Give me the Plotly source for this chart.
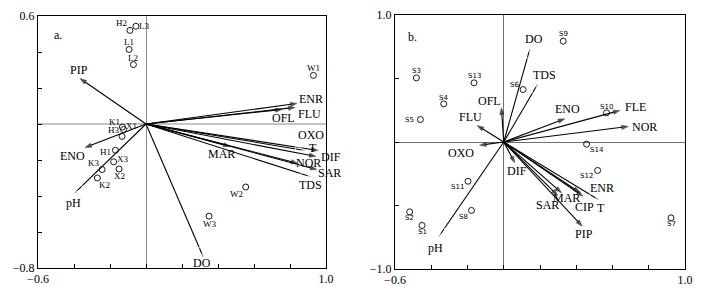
import plotly.graph_objects as go

# ---------------- data: panel a ----------------
a_vars = ["PIP", "ENO", "pH", "DO", "ENR", "FLU", "OFL", "OXO", "T", "DIF", "NOR", "SAR", "TDS", "MAR"]
a_vx = [-0.367, -0.339, -0.394, 0.317, 0.839, 0.828, 0.756, 0.956, 0.883, 0.944, 0.844, 0.950, 0.911, 0.467]
a_vy = [0.253, -0.131, -0.381, -0.736, 0.114, 0.092, 0.081, -0.147, -0.147, -0.180, -0.219, -0.253, -0.292, -0.125]
a_open = [False, False, True, True, False, False, False, False, True, False, False, False, True, False]

a_sites = ["H2", "L3", "L1", "L2", "K1", "X1", "H3", "H1", "X3", "X2", "K3", "K2", "W1", "W2", "W3"]
a_sx = [-0.089, -0.056, -0.094, -0.070, -0.131, -0.125, -0.133, -0.170, -0.180, -0.150, -0.244, -0.270, 0.930, 0.554, 0.350]
a_sy = [0.520, 0.543, 0.414, 0.330, -0.017, -0.031, -0.069, -0.146, -0.210, -0.250, -0.253, -0.300, 0.270, -0.350, -0.512]

# ---------------- data: panel b ----------------
b_vars = ["DO", "TDS", "OFL", "FLU", "ENO", "FLE", "NOR", "OXO", "DIF", "pH", "SAR", "MAR", "CIP", "T", "ENR", "PIP"]
b_vx = [0.144, 0.186, -0.013, -0.147, 0.337, 0.641, 0.687, -0.133, 0.061, -0.357, 0.298, 0.319, 0.420, 0.521, 0.438, 0.433]
b_vy = [0.734, 0.453, 0.269, 0.130, 0.183, 0.248, 0.122, -0.025, -0.164, -0.742, -0.421, -0.400, -0.398, -0.453, -0.427, -0.663]
b_open = [True, True, False, False, False, False, False, False, False, True, False, False, False, True, False, False]

b_sites = ["S9", "S3", "S13", "S6", "S4", "S5", "S10", "S14", "S12", "S7", "S11", "S8", "S2", "S1"]
b_sx = [0.328, -0.482, -0.164, 0.107, -0.331, -0.460, 0.567, 0.457, 0.518, 0.923, -0.197, -0.178, -0.519, -0.451]
b_sy = [0.794, 0.505, 0.466, 0.413, 0.300, 0.177, 0.230, -0.017, -0.224, -0.597, -0.309, -0.539, -0.550, -0.657]

# axis ticks
a_xticks = [-0.6, -0.4, -0.2, 0.0, 0.2, 0.4, 0.6, 0.8, 1.0]
a_xtext = ["\u22120.6", "", "", "", "", "", "", "", "1.0"]
a_yticks = [-0.8, -0.6, -0.4, -0.2, 0.0, 0.2, 0.4, 0.6]
a_ytext = ["\u22120.8", "", "", "", "", "", "", "0.6"]
b_xticks = a_xticks
b_xtext = a_xtext
b_yticks = [-1.0, -0.5, 0.0, 0.5, 1.0]
b_ytext = ["\u22121.0", "", "", "", "1.0"]

# ---------------- label offsets (pixels: dx right, dy down) ----------------
a_var_off = {"PIP": (-1, -8), "ENO": (-12, 8), "pH": (-2, 10), "DO": (-1, 7), "ENR": (14, -4),
             "FLU": (14, 7), "OFL": (1, 9), "OXO": (-7, -15), "T": (8, -2), "DIF": (15, 1),
             "NOR": (11, 0), "SAR": (12, 3), "TDS": (1, 8), "MAR": (-9, 7)}
a_site_off = {"H2": (-8, -7), "L3": (8, 0), "L1": (0, -7), "L2": (0, -7), "K1": (-8, -5),
              "X1": (8, -4), "H3": (-8, -6), "H1": (-10, 2), "X3": (9, -3), "X2": (0, 7),
              "K3": (-8, -7), "K2": (7, 7), "W1": (0, -7), "W2": (-9, 7), "W3": (0, 8)}
b_var_off = {"DO": (4, -10), "TDS": (7, -9), "OFL": (-12, -7), "FLU": (-7, -8), "ENO": (3, -10),
             "FLE": (16, -4), "NOR": (16, 0), "OXO": (-19, 8), "DIF": (2, 8), "pH": (-4, 12),
             "SAR": (-10, 10), "MAR": (5, 5), "CIP": (5, 14), "T": (3, 8), "ENR": (19, -8),
             "PIP": (2, 8)}
b_site_off = {"S9": (0, -7), "S3": (0, -7), "S13": (0, -7), "S6": (-9, -5), "S4": (0, -6),
              "S5": (-11, 0), "S10": (0, -6), "S14": (10, 6), "S12": (-11, 6), "S7": (0, 6),
              "S11": (-11, 6), "S8": (-8, 7), "S2": (0, 6), "S1": (0, 7)}

# page body has an 8px margin; figure is sized to fit the window
PAGE_OFF = 8
FIG_W, FIG_H = 721 - PAGE_OFF, 300 - PAGE_OFF


def px_x(px):
    return (px - PAGE_OFF) / FIG_W


def px_y(py):
    return 1 - (py - PAGE_OFF) / FIG_H


SERIF = "Liberation Serif, Times New Roman, Times, serif"
fig = go.Figure()
annotations = []


def add_panel(xa, ya, names, vx, vy, opens, var_off, sites, sx, sy, site_off, site_font):
    for n, x, y, op in zip(names, vx, vy, opens):
        fig.add_trace(go.Scatter(
            x=[0, x], y=[0, y], mode="lines+markers", xaxis=xa, yaxis=ya,
            line=dict(color="black", width=1.1),
            marker=dict(symbol=["circle", "arrow-open" if op else "arrow"],
                        size=[0, 10 if op else 7], angleref="previous",
                        color="white" if op else "black",
                        line=dict(color="black", width=1.1 if op else 0.5)),
            showlegend=False, hoverinfo="skip"))
        dx, dy = var_off[n]
        annotations.append(dict(x=x, y=y, xref=xa, yref=ya, text=n,
                                showarrow=False, xshift=dx, yshift=-dy,
                                font=dict(family=SERIF, size=12, color="black")))
    fig.add_trace(go.Scatter(
        x=sx, y=sy, mode="markers", xaxis=xa, yaxis=ya,
        marker=dict(symbol="circle-open", size=6, color="black", line=dict(width=0.9)),
        showlegend=False, hoverinfo="skip"))
    for n, x, y in zip(sites, sx, sy):
        dx, dy = site_off[n]
        annotations.append(dict(x=x, y=y, xref=xa, yref=ya, text=n, showarrow=False,
                                xshift=dx, yshift=-dy, font=site_font))


add_panel("x", "y", a_vars, a_vx, a_vy, a_open, a_var_off,
          a_sites, a_sx, a_sy, a_site_off, dict(family=SERIF, size=9, color="black"))
add_panel("x2", "y2", b_vars, b_vx, b_vy, b_open, b_var_off,
          b_sites, b_sx, b_sy, b_site_off, dict(family="DejaVu Sans", size=7, color="black"))

annotations.append(dict(x=px_x(52), y=px_y(26), xref="paper", yref="paper", text="a.",
                        showarrow=False, font=dict(family=SERIF, size=12, color="black")))
annotations.append(dict(x=px_x(412), y=px_y(28), xref="paper", yref="paper", text="b.",
                        showarrow=False, font=dict(family=SERIF, size=12, color="black")))

axis_common = dict(showline=True, linecolor="black", linewidth=1, mirror=True, automargin=False,
                   ticks="inside", ticklen=4, tickcolor="black", showgrid=False,
                   tickfont=dict(family=SERIF, size=12, color="black"), tickmode="array")

fig.update_layout(
    width=FIG_W, height=FIG_H, margin=dict(l=0, r=0, t=0, b=0, autoexpand=False),
    paper_bgcolor="white", plot_bgcolor="white", showlegend=False,
    annotations=annotations,
    xaxis=dict(domain=[px_x(38), px_x(326)], range=[-0.6, 1.0], tickvals=a_xticks, ticktext=a_xtext,
               zeroline=True, zerolinecolor="#8c8c8c", zerolinewidth=1, anchor="y", **axis_common),
    yaxis=dict(domain=[px_y(268), px_y(16)], range=[-0.8, 0.6], tickvals=a_yticks, ticktext=a_ytext,
               zeroline=True, zerolinecolor="#c4c4c4", zerolinewidth=2, anchor="x", **axis_common),
    xaxis2=dict(domain=[px_x(395), px_x(685)], range=[-0.6, 1.0], tickvals=b_xticks, ticktext=b_xtext,
                zeroline=True, zerolinecolor="#6e6e6e", zerolinewidth=1, anchor="y2", **axis_common),
    yaxis2=dict(domain=[px_y(269), px_y(15)], range=[-1.0, 1.0], tickvals=b_yticks, ticktext=b_ytext,
                zeroline=True, zerolinecolor="#6e6e6e", zerolinewidth=1, anchor="x2", **axis_common),
)

fig.write_html("out.html")
